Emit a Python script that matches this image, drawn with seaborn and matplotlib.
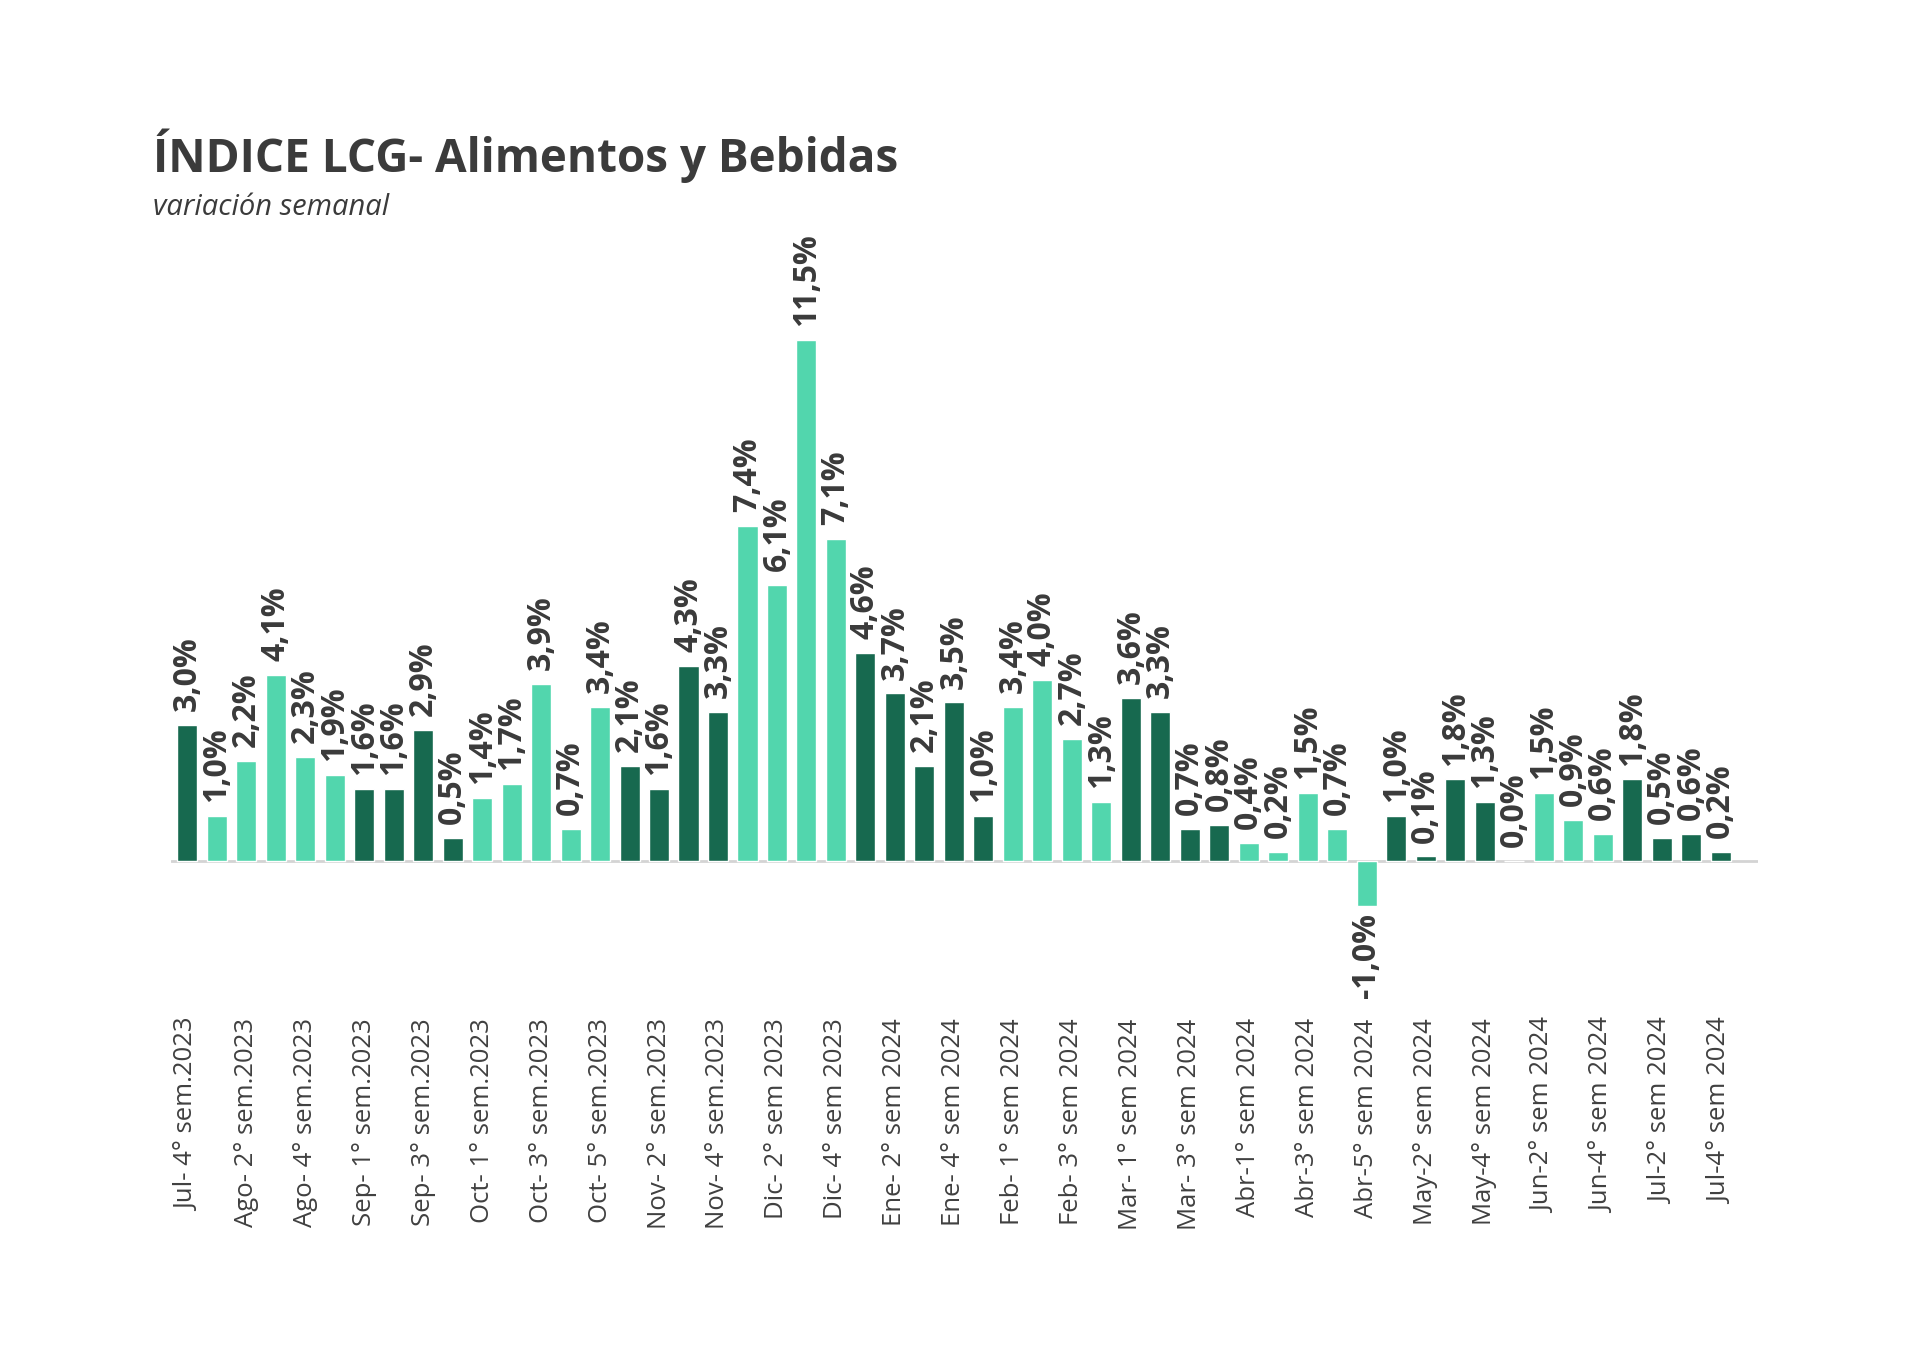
import matplotlib
matplotlib.use("Agg")
import matplotlib.pyplot as plt
import seaborn as sns
import pandas as pd

# ---- data ----
months = (["Jul"] + ["Ago"] * 5 + ["Sep"] * 4 + ["Oct"] * 5 + ["Nov"] * 4 + ["Dic"] * 4
          + ["Ene"] * 5 + ["Feb"] * 4 + ["Mar"] * 4 + ["Abr"] * 5 + ["May"] * 4
          + ["Jun"] * 4 + ["Jul"] * 4)
weeks = ([4] + [1, 2, 3, 4, 5] + [1, 2, 3, 4] + [1, 2, 3, 4, 5] + [1, 2, 3, 4] + [1, 2, 3, 4]
         + [1, 2, 3, 4, 5] + [1, 2, 3, 4] + [1, 2, 3, 4] + [1, 2, 3, 4, 5] + [1, 2, 3, 4]
         + [1, 2, 3, 4] + [1, 2, 3, 4])
years = [2023] * 23 + [2024] * 30
values = [3.0, 1.0, 2.2, 4.1, 2.3, 1.9, 1.6, 1.6, 2.9, 0.5,
          1.4, 1.7, 3.9, 0.7, 3.4, 2.1, 1.6, 4.3, 3.3, 7.4,
          6.1, 11.5, 7.1, 4.6, 3.7, 2.1, 3.5, 1.0, 3.4, 4.0,
          2.7, 1.3, 3.6, 3.3, 0.7, 0.8, 0.4, 0.2, 1.5, 0.7,
          -1.0, 1.0, 0.1, 1.8, 1.3, 0.0, 1.5, 0.9, 0.6, 1.8,
          0.5, 0.6, 0.2]


def make_label(m, w, y, i):
    if y == 2023 and m not in ("Dic",):
        return f"{m}- {w}° sem.{y}"
    if i >= 36:  # from Abril onwards no space after the dash
        return f"{m}-{w}° sem {y}"
    return f"{m}- {w}° sem {y}"


labels = [make_label(m, w, y, i) for i, (m, w, y) in enumerate(zip(months, weeks, years))]

# month group parity -> alternating colours
group = []
g = 0
for i, m in enumerate(months):
    if i > 0 and m != months[i - 1]:
        g += 1
    group.append("dark" if g % 2 == 0 else "light")

df = pd.DataFrame({"label": labels, "value": values, "tone": group})

# ---- style ----
sns.set_theme(style="white")
plt.rcParams["font.family"] = ["Open Sans", "DejaVu Sans"]
text_color = "#3a3a3a"
palette = {"dark": "#17694f", "light": "#52d6ad"}

fig = plt.figure(figsize=(19.2, 13.5), dpi=100)
ax = fig.add_axes([171 / 1920, 1 - 1010 / 1350, (1758 - 171) / 1920, (1010 - 230) / 1350])

sns.barplot(data=df, x="label", y="value", hue="tone", palette=palette,
            dodge=False, legend=False, width=0.68, ax=ax, saturation=1,
            order=labels)

ax.set_xlim(-0.55, len(values) - 1 + 1.27)
ax.set_ylim(-(1010 - 861) / 45.3, (861 - 230) / 45.3)

ax.axhline(0, color="#d4d4d4", lw=2, zorder=0.5)

for i, v in enumerate(values):
    txt = f"{v:.1f}%".replace(".", ",")
    if v < 0:
        ax.annotate(txt, xy=(i, v), xytext=(0, -5), textcoords="offset points",
                    rotation=90, ha="center", va="top", fontsize=23,
                    fontweight="bold", color=text_color)
    else:
        ax.annotate(txt, xy=(i, v), xytext=(0, 10), textcoords="offset points",
                    rotation=90, ha="center", va="bottom", fontsize=23,
                    fontweight="bold", color=text_color)

tick_pos = list(range(0, len(labels), 2))
ax.set_xticks(tick_pos)
ax.set_xticklabels([labels[i] for i in tick_pos], rotation=90, fontsize=18.5,
                   color="#404040")
ax.tick_params(axis="x", length=0, pad=6)
ax.set_yticks([])
ax.set_xlabel("")
ax.set_ylabel("")
for s in ax.spines.values():
    s.set_visible(False)

fig.text(153 / 1920, 1 - 172 / 1350, "ÍNDICE LCG- Alimentos y Bebidas",
         fontsize=33, fontweight="bold", color="#3b3b3b", ha="left", va="baseline")
fig.text(153 / 1920, 1 - 215 / 1350, "variación semanal", fontsize=21,
         style="italic", color="#3b3b3b", ha="left", va="baseline")

fig.savefig("out.png", dpi=100, facecolor="white")
